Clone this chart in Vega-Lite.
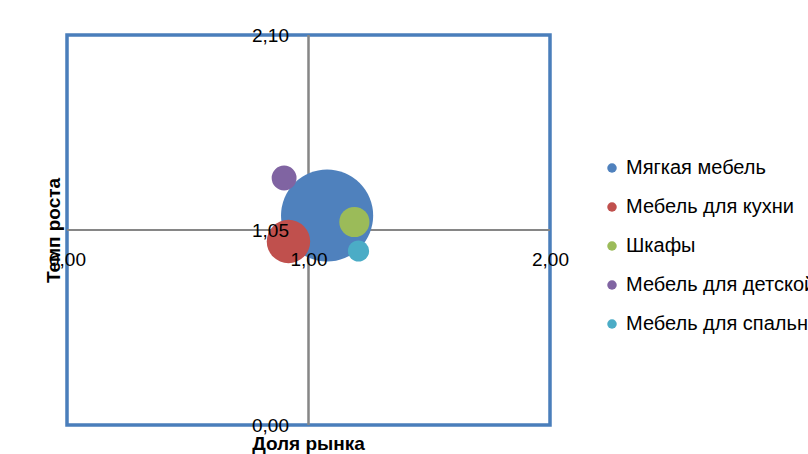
{
  "$schema": "https://vega.github.io/schema/vega-lite/v6.json",
  "autosize": "none",
  "width": 483,
  "height": 390,
  "padding": {"left": 67, "top": 35, "right": 258, "bottom": 29},
  "background": "white",
  "config": {
    "font": "Liberation Sans",
    "view": {"stroke": "#4A7EBB", "strokeWidth": 3.5}
  },
  "data": {
    "values": [
      {"name": "Мягкая мебель", "share": 1.077, "growth": 1.128, "volume": 100},
      {"name": "Мебель для кухни", "share": 0.917, "growth": 0.988, "volume": 22.2},
      {"name": "Шкафы", "share": 1.19, "growth": 1.093, "volume": 10.7},
      {"name": "Мебель для детской", "share": 0.899, "growth": 1.33, "volume": 7.3},
      {"name": "Мебель для спальни", "share": 1.207, "growth": 0.937, "volume": 5.3}
    ]
  },
  "layer": [
    {
      "mark": {"type": "rule", "color": "#868686", "strokeWidth": 1.5},
      "encoding": {"x": {"datum": 1, "type": "quantitative"}}
    },
    {
      "mark": {"type": "rule", "color": "#868686", "strokeWidth": 1.5},
      "encoding": {"y": {"datum": 1.05, "type": "quantitative"}}
    },
    {
      "mark": {"type": "circle", "opacity": 1},
      "encoding": {
        "x": {
          "field": "share", "type": "quantitative",
          "scale": {"domain": [0, 2], "nice": false, "zero": false},
          "axis": {
            "title": "Доля рынка", "orient": "bottom", "offset": -195,
            "values": [0, 1, 2], "domain": false, "ticks": false, "grid": false,
            "labelExpr": "replace(format(datum.value, '.2f'), '.', ',')",
            "labelFlush": false, "labelOverlap": false, "labelPadding": 20,
            "labelFontSize": 19, "labelColor": "#000000",
            "titleFontSize": 19, "titleFontWeight": "bold", "titleColor": "#000000",
            "titleBaseline": "middle", "titleY": 213, "titleX": 241,
            "zindex": 1
          }
        },
        "y": {
          "field": "growth", "type": "quantitative",
          "scale": {"domain": [0, 2.1], "nice": false, "zero": false},
          "axis": {
            "title": "Темп роста", "orient": "left", "offset": -241.5,
            "values": [0, 1.05, 2.1], "domain": false, "ticks": false, "grid": false,
            "labelExpr": "replace(format(datum.value, '.2f'), '.', ',')",
            "labelFlush": false, "labelOverlap": false, "labelPadding": 20,
            "labelFontSize": 19, "labelColor": "#000000",
            "titleFontSize": 19, "titleFontWeight": "bold", "titleColor": "#000000",
            "titleBaseline": "middle", "titleAngle": -90, "titleX": -255, "titleY": 195,
            "zindex": 1
          }
        },
        "size": {
          "field": "volume", "type": "quantitative",
          "scale": {"type": "linear", "domain": [0, 100], "range": [0, 8495], "zero": true},
          "legend": null
        },
        "color": {
          "field": "name", "type": "nominal",
          "scale": {
            "domain": ["Мягкая мебель", "Мебель для кухни", "Шкафы", "Мебель для детской", "Мебель для спальни"],
            "range": ["#4F81BD", "#C0504D", "#9BBB59", "#8064A2", "#4BACC6"]
          },
          "legend": {
            "title": null, "orient": "none", "legendX": 535, "legendY": 123,
            "symbolType": "circle", "symbolSize": 90, "symbolStrokeWidth": 0,
            "labelFontSize": 20, "labelColor": "#000000", "labelLimit": 400,
            "rowPadding": 19, "labelOffset": 4, "padding": 0
          }
        }
      }
    }
  ]
}
